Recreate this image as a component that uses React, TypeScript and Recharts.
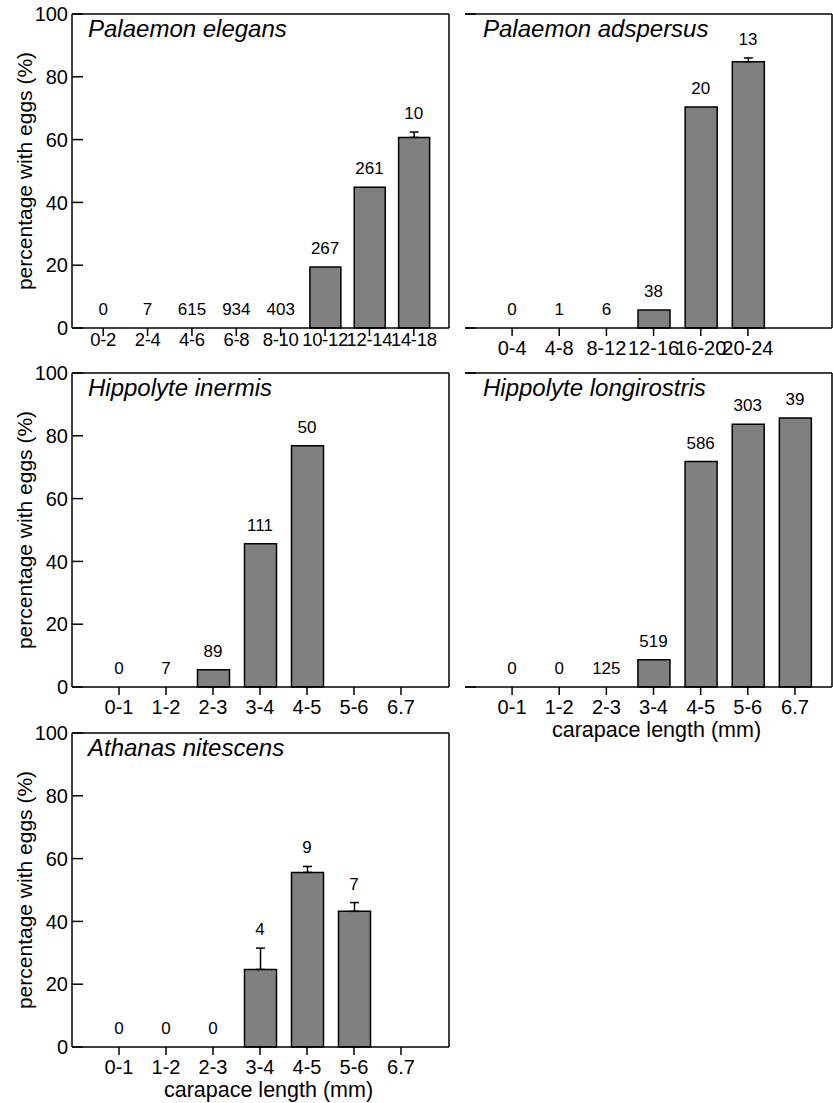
import React from 'react'
import { ComposedChart, Bar, Line, XAxis, YAxis, ErrorBar, LabelList, Label, CartesianGrid } from 'recharts'

// carapace length classes
const peCats = ['0-2', '2-4', '4-6', '6-8', '8-10', '10-12', '12-14', '14-18']
const paCats = ['0-4', '4-8', '8-12', '12-16', '16-20', '20-24']
const smallCats = ['0-1', '1-2', '2-3', '3-4', '4-5', '5-6', '6.7']

// Palaemon elegans
const pePct = [0, 0, 0, 0, 0, 19.4, 44.8, 60.7]
const peErr = [0, 0, 0, 0, 0, 0, 0, 1.7]
const peN = [0, 7, 615, 934, 403, 267, 261, 10]

// Palaemon adspersus
const paPct = [0, 0, 0, 5.7, 70.4, 84.8]
const paErr = [0, 0, 0, 0, 0, 1.2]
const paN = [0, 1, 6, 38, 20, 13]

// Hippolyte inermis
const hiPct = [0, 0, 5.5, 45.6, 76.8, null, null]
const hiErr = [0, 0, 0, 0, 0, 0, 0]
const hiN = [0, 7, 89, 111, 50, null, null]

// Hippolyte longirostris
const hlPct = [0, 0, 0, 8.7, 71.8, 83.7, 85.7]
const hlErr = [0, 0, 0, 0, 0, 0, 0]
const hlN = [0, 0, 125, 519, 586, 303, 39]

// Athanas nitescens
const anPct = [0, 0, 0, 24.7, 55.6, 43.2, null]
const anErr = [0, 0, 0, 6.8, 1.9, 2.8, 0]
const anN = [0, 0, 0, 4, 9, 7, null]

const yTicks = [0, 20, 40, 60, 80, 100]

const rows = (cats: string[], pct: (number | null)[], err: number[], n: (number | null)[]) =>
  cats.map((c, i) => ({
    cat: c,
    pct: pct[i],
    errRange: err[i] ? [0, err[i]] : null,
    // where the sample size sits: top of bar plus its error bar
    top: n[i] == null ? null : (pct[i] || 0) + (err[i] || 0),
    n: n[i],
  }))

const FONT = '"Liberation Sans", Arial, Helvetica, sans-serif'

const topEdge = (props: any) => [props.offset.top]
const rightEdge = (props: any) => [props.offset.left + props.offset.width]

// short inward tick on the left spine, placed at each y grid line
const innerTick = (props: any) => (
  <line
    key={props.key ?? `t-${props.y1}`}
    x1={props.x1}
    x2={props.x1 + 11}
    y1={props.y1}
    y2={props.y2}
    stroke="#000"
    strokeWidth={1.5}
  />
)

interface PanelProps {
  title: string
  data: any[]
  left: number
  top: number
  width: number
  height: number
  yWidth: number
  xHeight: number
  marginRight: number
  pad: { left: number; right: number }
  barSize: number
  tickMargin: number
  tickFont: number
  titleX: number
  yLabel?: boolean
  xLabel?: boolean
}

const Panel = (p: PanelProps) => (
  <div style={{ position: 'absolute', left: p.left, top: p.top }}>
    <ComposedChart
      width={p.width}
      height={p.height}
      data={p.data}
      margin={{ top: 14, right: p.marginRight, bottom: 0, left: 12 }}
      style={{ fontFamily: FONT }}
    >
      <CartesianGrid
        stroke="#000"
        strokeWidth={1.5}
        horizontalCoordinatesGenerator={topEdge}
        verticalCoordinatesGenerator={rightEdge}
      />
      <CartesianGrid vertical={false} horizontal={innerTick} stroke="#000" />
      <XAxis
        dataKey="cat"
        interval={0}
        height={p.xHeight}
        padding={p.pad}
        tickSize={8}
        tickMargin={p.tickMargin}
        axisLine={{ stroke: '#000', strokeWidth: 1.5 }}
        tickLine={{ stroke: '#000', strokeWidth: 1.5 }}
        tick={{ fill: '#000', fontSize: p.tickFont, letterSpacing: p.tickFont < 20 ? -0.3 : 0 }}
      >
        {p.xLabel && (
          <Label
            value="carapace length (mm)"
            position="insideBottom"
            offset={6}
            dx={8}
            style={{ fill: '#000', fontSize: 21.5 }}
          />
        )}
      </XAxis>
      <YAxis
        type="number"
        domain={[0, 100]}
        ticks={yTicks}
        width={p.yWidth}
        tickSize={0}
        tickMargin={4}
        tickLine={false}
        axisLine={{ stroke: '#000', strokeWidth: 1.5 }}
        tick={p.yLabel ? { fill: '#000', fontSize: 20 } : false}
      >
        {p.yLabel && (
          <Label
            value="percentage with eggs (%)"
            angle={-90}
            position="insideLeft"
            offset={13}
            style={{ fill: '#000', fontSize: 21, textAnchor: 'middle' }}
          />
        )}
      </YAxis>
      <Bar
        dataKey="pct"
        barSize={p.barSize}
        fill="#808080"
        stroke="#000"
        strokeWidth={1.5}
        isAnimationActive={false}
      >
        <ErrorBar dataKey="errRange" direction="y" width={4.5} stroke="#000" strokeWidth={1.5} />
      </Bar>
      <Line
        dataKey="top"
        stroke="none"
        dot={false}
        activeDot={false}
        legendType="none"
        isAnimationActive={false}
      >
        <LabelList dataKey="n" position="top" offset={13} fill="#000" fontSize={17} />
      </Line>
      <text x={p.titleX} y={37} fontSize={24} fontStyle="italic" fill="#000" fontFamily={FONT}>
        {p.title}
      </text>
    </ComposedChart>
  </div>
)

export default function App() {
  return (
    <div
      style={{
        position: 'absolute',
        left: 0,
        top: 0,
        width: 833,
        height: 1103,
        overflow: 'hidden',
        background: '#fff',
        fontFamily: FONT,
      }}
    >
      <Panel
        title="Palaemon elegans"
        data={rows(peCats, pePct, peErr, peN)}
        left={0}
        top={0}
        width={460}
        height={370}
        yWidth={60}
        xHeight={42}
        marginRight={11}
        pad={{ left: 9, right: 13 }}
        barSize={31}
        tickMargin={-3}
        tickFont={18.5}
        titleX={88}
        yLabel
      />
      <Panel
        title="Palaemon adspersus"
        data={rows(paCats, paPct, paErr, paN)}
        left={453}
        top={0}
        width={380}
        height={370}
        yWidth={0}
        xHeight={42}
        marginRight={1}
        pad={{ left: 23.5, right: 60.5 }}
        barSize={32}
        tickMargin={5}
        tickFont={20}
        titleX={30}
      />
      <Panel
        title="Hippolyte inermis"
        data={rows(smallCats, hiPct, hiErr, hiN)}
        left={0}
        top={359}
        width={460}
        height={370}
        yWidth={60}
        xHeight={42}
        marginRight={11}
        pad={{ left: 23.5, right: 24.5 }}
        barSize={32}
        tickMargin={5}
        tickFont={20}
        titleX={88}
        yLabel
      />
      <Panel
        title="Hippolyte longirostris"
        data={rows(smallCats, hlPct, hlErr, hlN)}
        left={453}
        top={359}
        width={380}
        height={384}
        yWidth={0}
        xHeight={56}
        marginRight={1}
        pad={{ left: 23.5, right: 13.5 }}
        barSize={32}
        tickMargin={5}
        tickFont={20}
        titleX={30}
        xLabel
      />
      <Panel
        title="Athanas nitescens"
        data={rows(smallCats, anPct, anErr, anN)}
        left={0}
        top={719}
        width={460}
        height={384}
        yWidth={60}
        xHeight={56}
        marginRight={11}
        pad={{ left: 23.5, right: 24.5 }}
        barSize={32}
        tickMargin={5}
        tickFont={20}
        titleX={88}
        yLabel
        xLabel
      />
    </div>
  )
}
